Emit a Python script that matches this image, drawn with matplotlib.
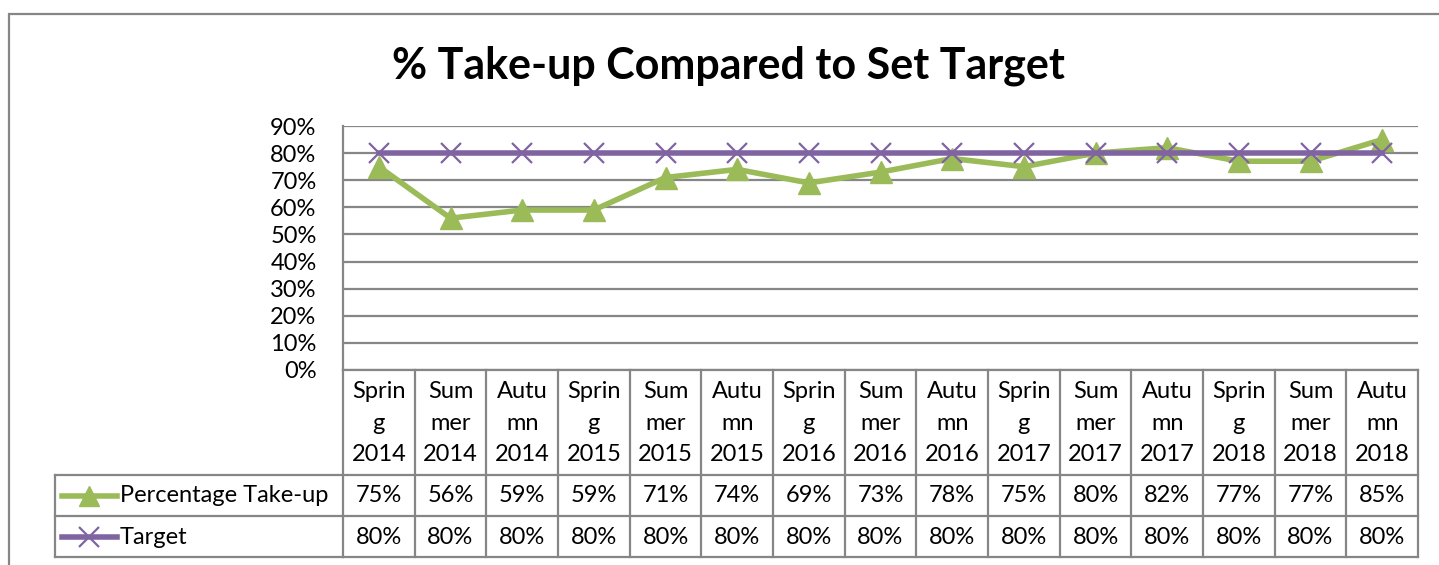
import matplotlib
matplotlib.use("Agg")
import matplotlib.pyplot as plt
import matplotlib.transforms as mtransforms
from matplotlib.patches import Rectangle
from matplotlib.lines import Line2D

plt.rcParams['font.family'] = ['Lato', 'DejaVu Sans']

categories = ["Sprin\ng\n2014", "Sum\nmer\n2014", "Autu\nmn\n2014",
              "Sprin\ng\n2015", "Sum\nmer\n2015", "Autu\nmn\n2015",
              "Sprin\ng\n2016", "Sum\nmer\n2016", "Autu\nmn\n2016",
              "Sprin\ng\n2017", "Sum\nmer\n2017", "Autu\nmn\n2017",
              "Sprin\ng\n2018", "Sum\nmer\n2018", "Autu\nmn\n2018"]
take_up = [75, 56, 59, 59, 71, 74, 69, 73, 78, 75, 80, 82, 77, 77, 85]
target = [80] * 15
series_names = ["Percentage Take-up", "Target"]
yticks = [0, 10, 20, 30, 40, 50, 60, 70, 80, 90]

GREEN = "#9BBB59"
PURPLE = "#8064A2"
GRID = "#868686"

W, H = 1439, 565
fig = plt.figure(figsize=(W / 100, H / 100), dpi=100)
L, R, T, B = 343, 1418, 126, 370
ax = fig.add_axes([L / W, 1 - B / H, (R - L) / W, (B - T) / H])

x = list(range(len(categories)))
ax.plot(x, take_up, color=GREEN, lw=4.0, marker="^", ms=16, mec=GREEN, mfc=GREEN, zorder=3)
ax.plot(x, target, color=PURPLE, lw=4.0, marker="x", ms=15, mew=1.6, mec=PURPLE, zorder=4)

fs = 17
ax.set_xlim(-0.5, len(categories) - 0.5)
ax.set_ylim(0, 90)
ax.set_yticks(yticks)
ax.set_yticklabels([f"{v}%" for v in yticks])
ax.tick_params(axis='y', length=0, labelsize=fs, pad=19)
ax.tick_params(axis='x', length=0, labelbottom=False)
for v in yticks:
    ax.axhline(v, color=GRID, lw=1.6, zorder=1)
for s in ["top", "right", "bottom"]:
    ax.spines[s].set_visible(False)
ax.spines["left"].set_color(GRID)
ax.spines["left"].set_linewidth(1.6)

# data table
px = lambda p: -(p - B) / (B - T)  # pixel row -> axes fraction
blend = mtransforms.blended_transform_factory(ax.transData, ax.transAxes)
row_edges = [B, 475, 516, 557]
tb_kw = dict(color=GRID, lw=1.6, clip_on=False, zorder=5)
n = len(categories)
ax.plot([-0.5, n - 0.5], [px(row_edges[0])] * 2, transform=blend, **tb_kw)
for r in row_edges[1:]:
    ax.plot([-0.5, n - 0.5], [px(r)] * 2, transform=blend, **tb_kw)
    ax.plot([(55 - L) / (R - L), 0], [px(r)] * 2, transform=ax.transAxes, **tb_kw)
for i in range(n + 1):
    ax.plot([i - 0.5, i - 0.5], [px(row_edges[0]), px(row_edges[-1])], transform=blend, **tb_kw)
ax.plot([(55 - L) / (R - L)] * 2, [px(475), px(557)], transform=ax.transAxes, **tb_kw)

for i, c in enumerate(categories):
    ax.text(i, px(423), c, transform=blend, ha="center", va="center", fontsize=fs,
            linespacing=1.6)
    ax.text(i, px(496), f"{take_up[i]}%", transform=blend, ha="center", va="center", fontsize=fs)
    ax.text(i, px(537), f"{target[i]}%", transform=blend, ha="center", va="center", fontsize=fs)

# legend keys in table
lx0, lx1 = (62 - L) / (R - L), (117 - L) / (R - L)
ax.add_line(Line2D([lx0, lx1], [px(496)] * 2, transform=ax.transAxes, color=GREEN, lw=4.0,
                   clip_on=False, zorder=6))
ax.add_line(Line2D([(lx0 + lx1) / 2], [px(496)], transform=ax.transAxes, marker="^", ms=14,
                   color=GREEN, lw=0, clip_on=False, zorder=6))
ax.add_line(Line2D([lx0, lx1], [px(537)] * 2, transform=ax.transAxes, color=PURPLE, lw=4.0,
                   clip_on=False, zorder=6))
ax.add_line(Line2D([(lx0 + lx1) / 2], [px(537)], transform=ax.transAxes, marker="x", ms=14,
                   mew=1.6, color=PURPLE, lw=0, clip_on=False, zorder=6))
ax.text((120 - L) / (R - L), px(496), series_names[0], transform=ax.transAxes, ha="left",
        va="center", fontsize=fs)
ax.text((120 - L) / (R - L), px(537), series_names[1], transform=ax.transAxes, ha="left",
        va="center", fontsize=fs)

fig.text(728 / W, 1 - 66 / H, "% Take-up Compared to Set Target", ha="center", va="center",
         fontsize=31, fontweight="bold")

fig.patches.append(Rectangle((9 / W, -0.2), 2, 1.2 - 14 / H, transform=fig.transFigure,
                             fill=False, edgecolor=GRID, lw=1.6, clip_on=False))

fig.savefig("out.png", dpi=100)
